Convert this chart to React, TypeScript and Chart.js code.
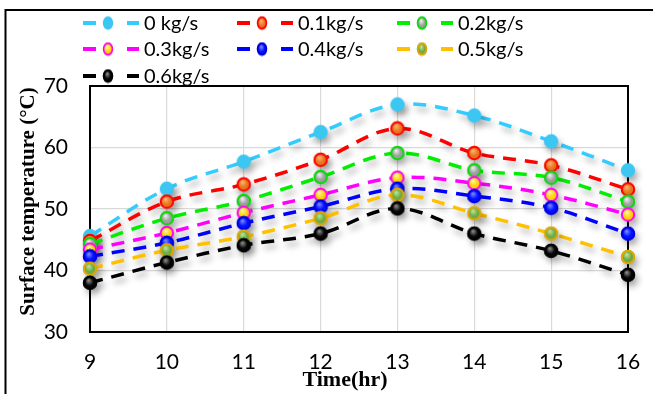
import React, { useEffect, useRef } from "react";
import { Chart, registerables } from "chart.js";

Chart.register(...registerables);

const hours = ["9", "10", "11", "12", "13", "14", "15", "16"];
const s0 = [45.6, 53.3, 57.7, 62.5, 67.0, 65.2, 61.0, 56.3];
const s1 = [44.8, 51.2, 54.0, 58.0, 63.1, 59.1, 57.1, 53.2];
const s2 = [44.3, 48.5, 51.3, 55.2, 59.1, 56.3, 55.1, 51.2];
const s3 = [43.4, 46.1, 49.4, 52.3, 55.1, 54.2, 52.3, 49.1];
const s4 = [42.3, 44.5, 47.7, 50.4, 53.3, 52.1, 50.2, 46.0];
const s5 = [40.3, 43.3, 45.5, 48.5, 52.3, 49.3, 46.0, 42.2];
const s6 = [38.0, 41.3, 44.1, 46.0, 50.1, 46.0, 43.2, 39.3];
const seriesLabels = ["0 kg/s", "0.1kg/s", "0.2kg/s", "0.3kg/s", "0.4kg/s", "0.5kg/s", "0.6kg/s"];
const seriesValues = [s0, s1, s2, s3, s4, s5, s6];
const yTitle = "Surface temperature (°C)";
const xTitle = "Time(hr)";

const lineColors = ["#33CCFF", "#FF0000", "#00EE00", "#FF00FF", "#0000FF", "#FFC000", "#000000"];
const markerFill = ["#3CC6F2", "#E8741E", "#9E9E9E", "#FFD200", "#0010FF", "#6EAA44", "#050505"];
const markerHighlight = ["#3CC6F2", "#FBB46E", "#EDEDED", "#FFF6A8", "#7A86FF", "#B8E494", "#8A8A8A"];
const markerBorder = ["#3CC6F2", "#FF0000", "#00DD00", "#FF00FF", "#0000DD", "#E8A600", "#000000"];

function makeSphere(i: number, w: number, h: number) {
  const c = document.createElement("canvas");
  c.width = w;
  c.height = h;
  const ctx = c.getContext("2d")!;
  const cx = w / 2, cy = h / 2;
  const rx = w / 2 - 0.8, ry = h / 2 - 0.8;
  ctx.save();
  ctx.translate(cx, cy);
  ctx.scale(rx / ry, 1);
  const g = ctx.createRadialGradient(-rx * 0.2, -ry * 0.35, 0.5, 0, 0, ry);
  g.addColorStop(0, markerHighlight[i]);
  g.addColorStop(0.55, markerFill[i]);
  g.addColorStop(1, markerFill[i]);
  ctx.beginPath();
  ctx.arc(0, 0, ry, 0, Math.PI * 2);
  ctx.fillStyle = g;
  ctx.fill();
  if (i !== 0) {
    ctx.lineWidth = 2;
    ctx.strokeStyle = markerBorder[i];
    ctx.beginPath();
    ctx.arc(0, 0, ry - 1, 0, Math.PI * 2);
    ctx.stroke();
  }
  ctx.restore();
  return c;
}

export default function App() {
  const ref = useRef<HTMLCanvasElement | null>(null);
  useEffect(() => {
    const canvas = ref.current!;
    const spheres = seriesValues.map((_, i) => makeSphere(i, 16, 16));
    const legendSpheres = seriesValues.map((_, i) => makeSphere(i, 12, 15));

    const decor = {
      id: "decor",
      beforeDraw(chart: any) {
        const ctx = chart.ctx;
        ctx.save();
        ctx.fillStyle = "#fff";
        ctx.fillRect(0, 0, chart.width, chart.height);
        ctx.strokeStyle = "#000";
        ctx.lineWidth = 2;
        ctx.strokeRect(5.5, 10, 700, 500);
        ctx.restore();
      },
      beforeDatasetsDraw(chart: any) {
        const ctx = chart.ctx;
        const a = chart.chartArea;
        ctx.save();
        ctx.strokeStyle = "#000";
        ctx.lineWidth = 2;
        ctx.strokeRect(a.left, a.top, a.right - a.left, a.bottom - a.top);
        ctx.restore();
        ctx.save();
        ctx.shadowColor = "rgba(0,0,0,0.3)";
        ctx.shadowBlur = 6;
        ctx.shadowOffsetX = 3;
        ctx.shadowOffsetY = 5;
      },
      afterDatasetsDraw(chart: any) {
        chart.ctx.restore();
      },
      afterDraw(chart: any) {
        const ctx = chart.ctx;
        ctx.save();
        ctx.fillStyle = "#000";
        ctx.font = 'bold 21px "Liberation Serif"';
        ctx.textAlign = "center";
        ctx.textBaseline = "middle";
        ctx.save();
        ctx.translate(29, 201.5);
        ctx.rotate(-Math.PI / 2);
        ctx.fillText(yTitle, 0, 0);
        ctx.restore();
        ctx.font = 'bold 22px "Liberation Serif"';
        ctx.fillText(xTitle, 345, 380);
        const colX = [83, 237, 397];
        const rowY = [23, 49, 76];
        ctx.font = '20px "Lato"';
        ctx.textAlign = "left";
        seriesLabels.forEach((lab, i) => {
          const x = colX[i % 3];
          const y = rowY[Math.floor(i / 3)];
          ctx.strokeStyle = lineColors[i];
          ctx.lineWidth = 4;
          ctx.beginPath();
          ctx.moveTo(x, y);
          ctx.lineTo(x + 13, y);
          ctx.moveTo(x + 44, y);
          ctx.lineTo(x + 56, y);
          ctx.stroke();
          const s = legendSpheres[i];
          ctx.drawImage(s, x + 25 - s.width / 2, y - s.height / 2);
          ctx.fillStyle = "#000";
          ctx.fillText(lab, x + 61, y + 1);
        });
        ctx.restore();
      },
    };

    const chart = new Chart(canvas, {
      type: "line",
      data: {
        labels: hours,
        datasets: seriesValues.map((vals, i) => ({
          label: seriesLabels[i],
          data: vals,
          borderColor: lineColors[i],
          backgroundColor: markerFill[i],
          borderWidth: 3.5,
          borderDash: [13, 9],
          tension: 0.35,
          fill: false,
          pointStyle: spheres[i] as any,
          pointRadius: 8,
          clip: false as any,
          order: 6 - i,
        })),
      },
      options: {
        responsive: false,
        animation: false,
        devicePixelRatio: 1,
        layout: { padding: { left: 0, top: 86, right: 25, bottom: 0 } },
        plugins: { legend: { display: false }, tooltip: { enabled: false }, title: { display: false } },
        scales: {
          x: {
            type: "category",
            offset: false,
            grid: { color: "#D9D9D9", lineWidth: 1.2, drawTicks: false },
            border: { display: false },
            ticks: { color: "#000", font: { family: "Lato", size: 21 }, padding: 18, maxRotation: 0 },
            afterFit(scale: any) {
              scale.height = 62;
              scale.paddingLeft = 0;
              scale.paddingRight = 0;
            },
          },
          y: {
            min: 30,
            max: 70,
            grid: { color: "#D9D9D9", lineWidth: 1.2, drawTicks: false },
            border: { display: false },
            ticks: { stepSize: 10, color: "#000", font: { family: "Lato", size: 21 }, padding: 22 },
            afterFit(scale: any) {
              scale.width = 90;
              scale.paddingTop = 0;
              scale.paddingBottom = 0;
            },
          },
        },
      },
      plugins: [decor],
    });
    return () => chart.destroy();
  }, []);
  return (
    <div style={{ position: "absolute", left: 0, top: 0, width: 653, height: 394 }}>
      <canvas ref={ref} width={653} height={394} style={{ display: "block" }} />
    </div>
  );
}
